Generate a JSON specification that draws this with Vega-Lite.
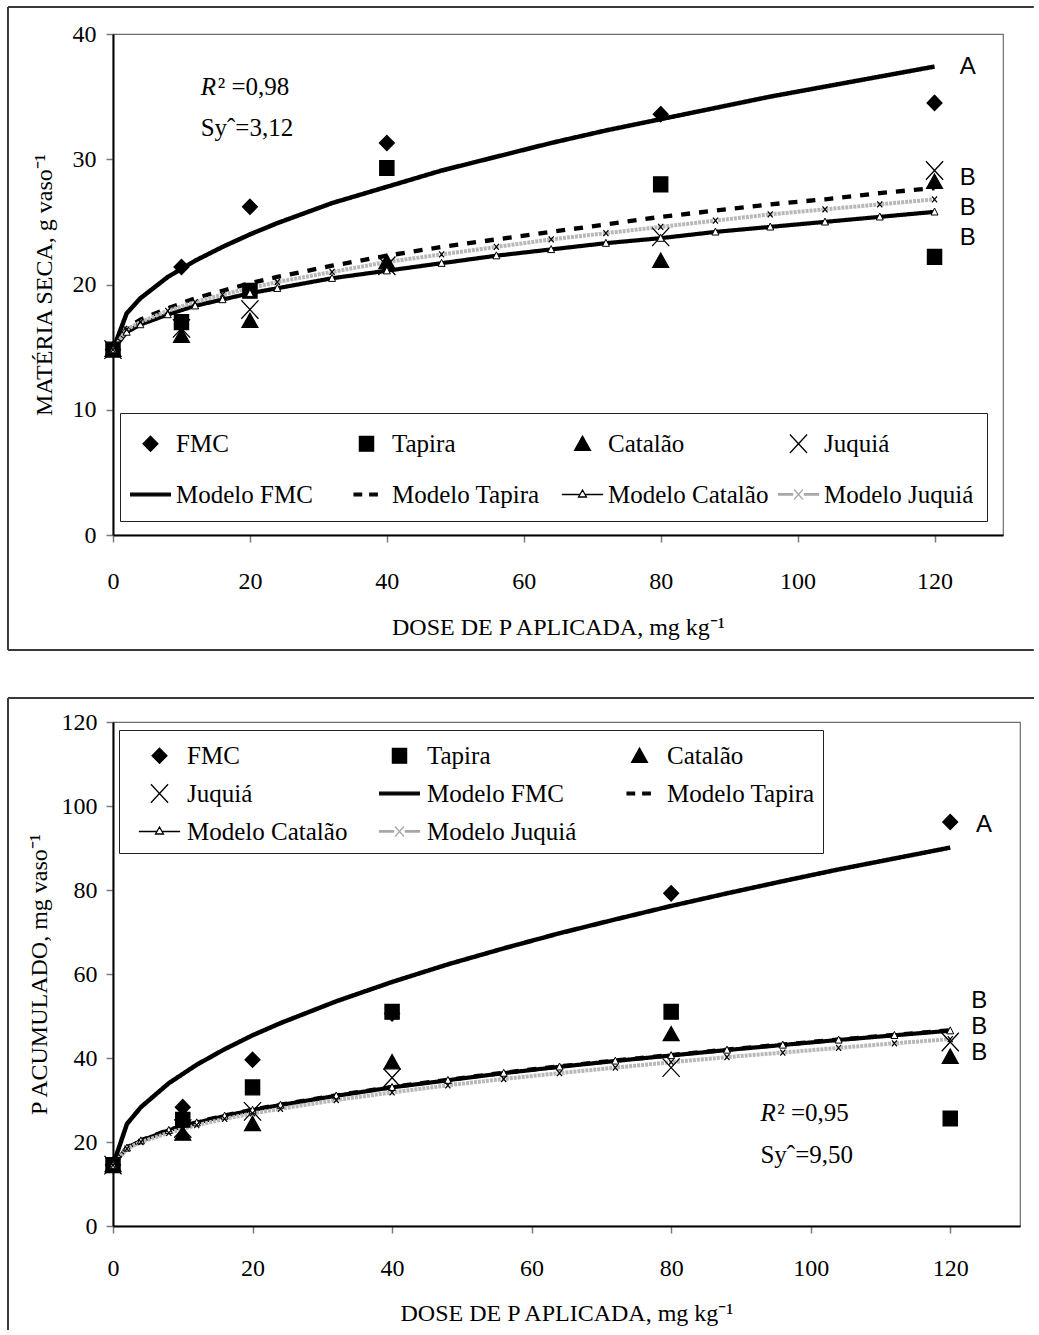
{
  "$schema": "https://vega.github.io/schema/vega-lite/v6.json",
  "padding": {"left": 6, "top": 5, "right": 0, "bottom": 0},
  "background": "white",
  "spacing": 44,
  "resolve": {
    "scale": {"shape": "independent", "stroke": "independent", "color": "independent", "strokeWidth": "independent", "strokeDash": "independent"},
    "legend": {"shape": "independent", "stroke": "independent"}
  },
  "datasets": {
    "ptsTop": [
      {"dose": 0, "serie": "FMC", "v": 14.8}, {"dose": 10, "serie": "FMC", "v": 21.4}, {"dose": 20, "serie": "FMC", "v": 26.2}, {"dose": 40, "serie": "FMC", "v": 31.3}, {"dose": 80, "serie": "FMC", "v": 33.6}, {"dose": 120, "serie": "FMC", "v": 34.5},
      {"dose": 0, "serie": "Tapira", "v": 14.8}, {"dose": 10, "serie": "Tapira", "v": 17.0}, {"dose": 20, "serie": "Tapira", "v": 19.5}, {"dose": 40, "serie": "Tapira", "v": 29.3}, {"dose": 80, "serie": "Tapira", "v": 28.0}, {"dose": 120, "serie": "Tapira", "v": 22.2},
      {"dose": 0, "serie": "Catalão", "v": 14.8}, {"dose": 10, "serie": "Catalão", "v": 15.9}, {"dose": 20, "serie": "Catalão", "v": 17.1}, {"dose": 40, "serie": "Catalão", "v": 21.8}, {"dose": 80, "serie": "Catalão", "v": 21.9}, {"dose": 120, "serie": "Catalão", "v": 28.2},
      {"dose": 0, "serie": "Juquiá", "v": 14.8}, {"dose": 10, "serie": "Juquiá", "v": 16.5}, {"dose": 20, "serie": "Juquiá", "v": 18.0}, {"dose": 40, "serie": "Juquiá", "v": 21.5}, {"dose": 80, "serie": "Juquiá", "v": 23.8}, {"dose": 120, "serie": "Juquiá", "v": 29.1}
    ],
    "modTop": [
      {"dose": 0, "serie": "Modelo FMC", "v": 14.8}, {"dose": 2, "serie": "Modelo FMC", "v": 17.7}, {"dose": 4, "serie": "Modelo FMC", "v": 18.9}, {"dose": 8, "serie": "Modelo FMC", "v": 20.6}, {"dose": 12, "serie": "Modelo FMC", "v": 21.9}, {"dose": 16, "serie": "Modelo FMC", "v": 23.0}, {"dose": 20, "serie": "Modelo FMC", "v": 24.0}, {"dose": 24, "serie": "Modelo FMC", "v": 24.9}, {"dose": 32, "serie": "Modelo FMC", "v": 26.5}, {"dose": 40, "serie": "Modelo FMC", "v": 27.8}, {"dose": 48, "serie": "Modelo FMC", "v": 29.1}, {"dose": 56, "serie": "Modelo FMC", "v": 30.2}, {"dose": 64, "serie": "Modelo FMC", "v": 31.3}, {"dose": 72, "serie": "Modelo FMC", "v": 32.3}, {"dose": 80, "serie": "Modelo FMC", "v": 33.2}, {"dose": 88, "serie": "Modelo FMC", "v": 34.1}, {"dose": 96, "serie": "Modelo FMC", "v": 35.0}, {"dose": 104, "serie": "Modelo FMC", "v": 35.8}, {"dose": 112, "serie": "Modelo FMC", "v": 36.6}, {"dose": 120, "serie": "Modelo FMC", "v": 37.4},
      {"dose": 0, "serie": "Modelo Tapira", "v": 14.8}, {"dose": 2, "serie": "Modelo Tapira", "v": 16.5}, {"dose": 4, "serie": "Modelo Tapira", "v": 17.2}, {"dose": 8, "serie": "Modelo Tapira", "v": 18.1}, {"dose": 12, "serie": "Modelo Tapira", "v": 18.9}, {"dose": 16, "serie": "Modelo Tapira", "v": 19.5}, {"dose": 20, "serie": "Modelo Tapira", "v": 20.1}, {"dose": 24, "serie": "Modelo Tapira", "v": 20.6}, {"dose": 32, "serie": "Modelo Tapira", "v": 21.5}, {"dose": 40, "serie": "Modelo Tapira", "v": 22.3}, {"dose": 48, "serie": "Modelo Tapira", "v": 23.0}, {"dose": 56, "serie": "Modelo Tapira", "v": 23.6}, {"dose": 64, "serie": "Modelo Tapira", "v": 24.2}, {"dose": 72, "serie": "Modelo Tapira", "v": 24.8}, {"dose": 80, "serie": "Modelo Tapira", "v": 25.4}, {"dose": 88, "serie": "Modelo Tapira", "v": 25.9}, {"dose": 96, "serie": "Modelo Tapira", "v": 26.4}, {"dose": 104, "serie": "Modelo Tapira", "v": 26.8}, {"dose": 112, "serie": "Modelo Tapira", "v": 27.3}, {"dose": 120, "serie": "Modelo Tapira", "v": 27.7},
      {"dose": 0, "serie": "Modelo Catalão", "v": 14.8}, {"dose": 2, "serie": "Modelo Catalão", "v": 16.2}, {"dose": 4, "serie": "Modelo Catalão", "v": 16.8}, {"dose": 8, "serie": "Modelo Catalão", "v": 17.6}, {"dose": 12, "serie": "Modelo Catalão", "v": 18.3}, {"dose": 16, "serie": "Modelo Catalão", "v": 18.8}, {"dose": 20, "serie": "Modelo Catalão", "v": 19.3}, {"dose": 24, "serie": "Modelo Catalão", "v": 19.7}, {"dose": 32, "serie": "Modelo Catalão", "v": 20.5}, {"dose": 40, "serie": "Modelo Catalão", "v": 21.1}, {"dose": 48, "serie": "Modelo Catalão", "v": 21.7}, {"dose": 56, "serie": "Modelo Catalão", "v": 22.3}, {"dose": 64, "serie": "Modelo Catalão", "v": 22.8}, {"dose": 72, "serie": "Modelo Catalão", "v": 23.3}, {"dose": 80, "serie": "Modelo Catalão", "v": 23.7}, {"dose": 88, "serie": "Modelo Catalão", "v": 24.2}, {"dose": 96, "serie": "Modelo Catalão", "v": 24.6}, {"dose": 104, "serie": "Modelo Catalão", "v": 25.0}, {"dose": 112, "serie": "Modelo Catalão", "v": 25.4}, {"dose": 120, "serie": "Modelo Catalão", "v": 25.8},
      {"dose": 0, "serie": "Modelo Juquiá", "v": 14.8}, {"dose": 2, "serie": "Modelo Juquiá", "v": 16.4}, {"dose": 4, "serie": "Modelo Juquiá", "v": 17.0}, {"dose": 8, "serie": "Modelo Juquiá", "v": 17.9}, {"dose": 12, "serie": "Modelo Juquiá", "v": 18.6}, {"dose": 16, "serie": "Modelo Juquiá", "v": 19.2}, {"dose": 20, "serie": "Modelo Juquiá", "v": 19.7}, {"dose": 24, "serie": "Modelo Juquiá", "v": 20.2}, {"dose": 32, "serie": "Modelo Juquiá", "v": 21.0}, {"dose": 40, "serie": "Modelo Juquiá", "v": 21.8}, {"dose": 48, "serie": "Modelo Juquiá", "v": 22.4}, {"dose": 56, "serie": "Modelo Juquiá", "v": 23.0}, {"dose": 64, "serie": "Modelo Juquiá", "v": 23.6}, {"dose": 72, "serie": "Modelo Juquiá", "v": 24.1}, {"dose": 80, "serie": "Modelo Juquiá", "v": 24.6}, {"dose": 88, "serie": "Modelo Juquiá", "v": 25.1}, {"dose": 96, "serie": "Modelo Juquiá", "v": 25.6}, {"dose": 104, "serie": "Modelo Juquiá", "v": 26.0}, {"dose": 112, "serie": "Modelo Juquiá", "v": 26.4}, {"dose": 120, "serie": "Modelo Juquiá", "v": 26.8}
    ],
    "ptsBot": [
      {"dose": 0, "serie": "FMC", "v": 14.5}, {"dose": 10, "serie": "FMC", "v": 28.3}, {"dose": 20, "serie": "FMC", "v": 39.6}, {"dose": 40, "serie": "FMC", "v": 50.6}, {"dose": 80, "serie": "FMC", "v": 79.2}, {"dose": 120, "serie": "FMC", "v": 96.2},
      {"dose": 0, "serie": "Tapira", "v": 14.5}, {"dose": 10, "serie": "Tapira", "v": 25.3}, {"dose": 20, "serie": "Tapira", "v": 33.0}, {"dose": 40, "serie": "Tapira", "v": 51.0}, {"dose": 80, "serie": "Tapira", "v": 51.0}, {"dose": 120, "serie": "Tapira", "v": 25.6},
      {"dose": 0, "serie": "Catalão", "v": 14.5}, {"dose": 10, "serie": "Catalão", "v": 22.0}, {"dose": 20, "serie": "Catalão", "v": 24.3}, {"dose": 40, "serie": "Catalão", "v": 39.0}, {"dose": 80, "serie": "Catalão", "v": 45.7}, {"dose": 120, "serie": "Catalão", "v": 40.3},
      {"dose": 0, "serie": "Juquiá", "v": 14.5}, {"dose": 10, "serie": "Juquiá", "v": 23.2}, {"dose": 20, "serie": "Juquiá", "v": 27.3}, {"dose": 40, "serie": "Juquiá", "v": 35.3}, {"dose": 80, "serie": "Juquiá", "v": 37.7}, {"dose": 120, "serie": "Juquiá", "v": 43.8}
    ],
    "modBot": [
      {"dose": 0, "serie": "Modelo FMC", "v": 14.5}, {"dose": 2, "serie": "Modelo FMC", "v": 24.3}, {"dose": 4, "serie": "Modelo FMC", "v": 28.3}, {"dose": 8, "serie": "Modelo FMC", "v": 34.0}, {"dose": 12, "serie": "Modelo FMC", "v": 38.4}, {"dose": 16, "serie": "Modelo FMC", "v": 42.1}, {"dose": 20, "serie": "Modelo FMC", "v": 45.4}, {"dose": 24, "serie": "Modelo FMC", "v": 48.3}, {"dose": 32, "serie": "Modelo FMC", "v": 53.5}, {"dose": 40, "serie": "Modelo FMC", "v": 58.1}, {"dose": 48, "serie": "Modelo FMC", "v": 62.3}, {"dose": 56, "serie": "Modelo FMC", "v": 66.1}, {"dose": 64, "serie": "Modelo FMC", "v": 69.7}, {"dose": 72, "serie": "Modelo FMC", "v": 73.0}, {"dose": 80, "serie": "Modelo FMC", "v": 76.2}, {"dose": 88, "serie": "Modelo FMC", "v": 79.2}, {"dose": 96, "serie": "Modelo FMC", "v": 82.1}, {"dose": 104, "serie": "Modelo FMC", "v": 84.9}, {"dose": 112, "serie": "Modelo FMC", "v": 87.5}, {"dose": 120, "serie": "Modelo FMC", "v": 90.1},
      {"dose": 0, "serie": "Modelo Tapira", "v": 14.5}, {"dose": 2, "serie": "Modelo Tapira", "v": 18.7}, {"dose": 4, "serie": "Modelo Tapira", "v": 20.4}, {"dose": 8, "serie": "Modelo Tapira", "v": 22.9}, {"dose": 12, "serie": "Modelo Tapira", "v": 24.7}, {"dose": 16, "serie": "Modelo Tapira", "v": 26.3}, {"dose": 20, "serie": "Modelo Tapira", "v": 27.7}, {"dose": 24, "serie": "Modelo Tapira", "v": 28.9}, {"dose": 32, "serie": "Modelo Tapira", "v": 31.1}, {"dose": 40, "serie": "Modelo Tapira", "v": 33.1}, {"dose": 48, "serie": "Modelo Tapira", "v": 34.8}, {"dose": 56, "serie": "Modelo Tapira", "v": 36.5}, {"dose": 64, "serie": "Modelo Tapira", "v": 38.0}, {"dose": 72, "serie": "Modelo Tapira", "v": 39.4}, {"dose": 80, "serie": "Modelo Tapira", "v": 40.7}, {"dose": 88, "serie": "Modelo Tapira", "v": 42.0}, {"dose": 96, "serie": "Modelo Tapira", "v": 43.2}, {"dose": 104, "serie": "Modelo Tapira", "v": 44.4}, {"dose": 112, "serie": "Modelo Tapira", "v": 45.5}, {"dose": 120, "serie": "Modelo Tapira", "v": 46.6},
      {"dose": 0, "serie": "Modelo Catalão", "v": 14.5}, {"dose": 2, "serie": "Modelo Catalão", "v": 18.6}, {"dose": 4, "serie": "Modelo Catalão", "v": 20.3}, {"dose": 8, "serie": "Modelo Catalão", "v": 22.8}, {"dose": 12, "serie": "Modelo Catalão", "v": 24.6}, {"dose": 16, "serie": "Modelo Catalão", "v": 26.2}, {"dose": 20, "serie": "Modelo Catalão", "v": 27.6}, {"dose": 24, "serie": "Modelo Catalão", "v": 28.8}, {"dose": 32, "serie": "Modelo Catalão", "v": 31.0}, {"dose": 40, "serie": "Modelo Catalão", "v": 33.0}, {"dose": 48, "serie": "Modelo Catalão", "v": 34.7}, {"dose": 56, "serie": "Modelo Catalão", "v": 36.4}, {"dose": 64, "serie": "Modelo Catalão", "v": 37.9}, {"dose": 72, "serie": "Modelo Catalão", "v": 39.3}, {"dose": 80, "serie": "Modelo Catalão", "v": 40.6}, {"dose": 88, "serie": "Modelo Catalão", "v": 41.9}, {"dose": 96, "serie": "Modelo Catalão", "v": 43.1}, {"dose": 104, "serie": "Modelo Catalão", "v": 44.3}, {"dose": 112, "serie": "Modelo Catalão", "v": 45.4}, {"dose": 120, "serie": "Modelo Catalão", "v": 46.5},
      {"dose": 0, "serie": "Modelo Juquiá", "v": 14.5}, {"dose": 2, "serie": "Modelo Juquiá", "v": 18.4}, {"dose": 4, "serie": "Modelo Juquiá", "v": 20.0}, {"dose": 8, "serie": "Modelo Juquiá", "v": 22.2}, {"dose": 12, "serie": "Modelo Juquiá", "v": 24.0}, {"dose": 16, "serie": "Modelo Juquiá", "v": 25.5}, {"dose": 20, "serie": "Modelo Juquiá", "v": 26.8}, {"dose": 24, "serie": "Modelo Juquiá", "v": 27.9}, {"dose": 32, "serie": "Modelo Juquiá", "v": 30.0}, {"dose": 40, "serie": "Modelo Juquiá", "v": 31.8}, {"dose": 48, "serie": "Modelo Juquiá", "v": 33.5}, {"dose": 56, "serie": "Modelo Juquiá", "v": 35.0}, {"dose": 64, "serie": "Modelo Juquiá", "v": 36.4}, {"dose": 72, "serie": "Modelo Juquiá", "v": 37.7}, {"dose": 80, "serie": "Modelo Juquiá", "v": 39.0}, {"dose": 88, "serie": "Modelo Juquiá", "v": 40.2}, {"dose": 96, "serie": "Modelo Juquiá", "v": 41.3}, {"dose": 104, "serie": "Modelo Juquiá", "v": 42.4}, {"dose": 112, "serie": "Modelo Juquiá", "v": 43.5}, {"dose": 120, "serie": "Modelo Juquiá", "v": 44.5}
    ]
  },
  "config": {
    "view": {"stroke": "#6e6e6e", "strokeWidth": 1.2},
    "font": "Liberation Serif",
    "axis": {
      "labelFont": "Liberation Serif", "labelFontSize": 24, "labelColor": "black", "labelFlush": false,
      "titleFont": "Liberation Serif", "titleFontSize": 24, "titleFontWeight": "normal", "titleColor": "black",
      "domainColor": "black", "domainWidth": 2, "tickColor": "#7a7a7a", "tickWidth": 1.5, "tickSize": 7,
      "grid": false, "labelOverlap": false
    },
    "legend": {
      "labelFont": "Liberation Serif", "labelFontSize": 25, "labelColor": "black", "labelLimit": 600,
      "strokeColor": "#222", "fillColor": "white", "symbolStrokeWidth": 1.3, "symbolSize": 1089,
      "gridAlign": "all", "title": null, "direction": "horizontal"
    }
  },
  "vconcat": [
    {
      "width": 890,
      "height": 501,
      "layer": [
        {
          "data": {"values": [{}]},
          "mark": {"type": "rule", "clip": false, "color": "#3a3a3a", "strokeWidth": 2},
          "encoding": {
            "x": {"datum": -15.34, "type": "quantitative", "title": "DOSE DE P APLICADA, mg kg⁻¹", "scale": {"domain": [0, 130], "nice": false, "zero": false}},
            "x2": {"datum": 134.5},
            "y": {"datum": 42.16, "type": "quantitative", "title": "MATÉRIA SECA, g vaso⁻¹", "scale": {"domain": [0, 40], "nice": false, "zero": false}}
          }
        },
        {
          "data": {"values": [{}]},
          "mark": {"type": "rule", "clip": false, "color": "#3a3a3a", "strokeWidth": 2},
          "encoding": {
            "x": {"datum": -15.34, "type": "quantitative", "title": "DOSE DE P APLICADA, mg kg⁻¹", "scale": {"domain": [0, 130], "nice": false, "zero": false}},
            "x2": {"datum": 134.5},
            "y": {"datum": -9.18, "type": "quantitative", "title": "MATÉRIA SECA, g vaso⁻¹", "scale": {"domain": [0, 40], "nice": false, "zero": false}}
          }
        },
        {
          "data": {"values": [{}]},
          "mark": {"type": "rule", "clip": false, "color": "#3a3a3a", "strokeWidth": 2},
          "encoding": {
            "x": {"datum": -15.34, "type": "quantitative", "title": "DOSE DE P APLICADA, mg kg⁻¹", "scale": {"domain": [0, 130], "nice": false, "zero": false}},
            "y": {"datum": 42.16, "type": "quantitative", "title": "MATÉRIA SECA, g vaso⁻¹", "scale": {"domain": [0, 40], "nice": false, "zero": false}},
            "y2": {"datum": -9.18}
          }
        },
        {
          "data": {"name": "modTop"},
          "mark": {"type": "line", "clip": false},
          "encoding": {
            "x": {"field": "dose", "type": "quantitative", "title": "DOSE DE P APLICADA, mg kg⁻¹", "scale": {"domain": [0, 130], "nice": false, "zero": false}},
            "y": {"field": "v", "type": "quantitative", "title": "MATÉRIA SECA, g vaso⁻¹", "scale": {"domain": [0, 40], "nice": false, "zero": false}},
            "color": {"field": "serie", "type": "nominal", "scale": {"domain": ["Modelo FMC", "Modelo Tapira", "Modelo Catalão", "Modelo Juquiá"], "range": ["black", "black", "black", "#b8b8b8"]}, "legend": null},
            "strokeWidth": {"field": "serie", "type": "nominal", "scale": {"domain": ["Modelo FMC", "Modelo Tapira", "Modelo Catalão", "Modelo Juquiá"], "range": [4.5, 4, 1.3, 3.5]}, "legend": null},
            "strokeDash": {"field": "serie", "type": "nominal", "scale": {"domain": ["Modelo FMC", "Modelo Tapira", "Modelo Catalão", "Modelo Juquiá"], "range": [[1, 0], [9, 9], [1, 0], [3, 1]]}, "legend": null}
          }
        },
        {
          "data": {"name": "ptsTop"},
          "mark": {"type": "point", "filled": true, "color": "black", "strokeWidth": 1.3, "size": 1089, "opacity": 1},
          "encoding": {
            "x": {"field": "dose", "type": "quantitative", "title": "DOSE DE P APLICADA, mg kg⁻¹", "scale": {"domain": [0, 130], "nice": false, "zero": false},
                  "axis": {"values": [0, 20, 40, 60, 80, 100, 120], "labelPadding": 27, "titlePadding": 22}},
            "y": {"field": "v", "type": "quantitative", "title": "MATÉRIA SECA, g vaso⁻¹", "scale": {"domain": [0, 40], "nice": false, "zero": false},
                  "axis": {"values": [0, 10, 20, 30, 40], "labelPadding": 10, "titlePadding": 16}},
            "stroke": {
              "field": "serie", "type": "nominal",
              "scale": {
                "domain": ["FMC", "Tapira", "Catalão", "Juquiá", "Modelo FMC", "Modelo Tapira", "Modelo Catalão", "Modelo Juquiá"],
                "range": ["black", "black", "black", "black", "black", "black", "black", "#a8a8a8"]
              }
            },
            "shape": {
              "field": "serie", "type": "nominal",
              "scale": {
                "domain": ["FMC", "Tapira", "Catalão", "Juquiá", "Modelo FMC", "Modelo Tapira", "Modelo Catalão", "Modelo Juquiá"],
                "range": [
                  "M0,-0.46L0.45,0L0,0.46L-0.45,0Z",
                  "M-0.43,-0.45L0.43,-0.45L0.43,0.45L-0.43,0.45Z",
                  "M0,-0.46L0.48,0.4L-0.48,0.4Z",
                  "M-0.52,-0.56L0.52,0.56M0.52,-0.56L-0.52,0.56",
                  "M-1.2,-0.08L1.2,-0.08L1.2,0.08L-1.2,0.08Z",
                  "M-0.75,-0.08L-0.3,-0.08L-0.3,0.08L-0.75,0.08ZM0.2,-0.08L0.65,-0.08L0.65,0.08L0.2,0.08Z",
                  "M-1.25,0L-0.15,0M0.15,0L1.25,0M0,-0.27L0.24,0.15L-0.24,0.15ZM0,-0.27L-0.24,0.15L0.24,0.15Z",
                  "M-1.25,-0.05L-0.32,-0.05M-1.25,0.03L-0.32,0.03M0.32,-0.05L1.25,-0.05M0.32,0.03L1.25,0.03M-0.27,-0.3L0.27,0.3M0.27,-0.3L-0.27,0.3"
                ]
              },
              "legend": {
                "orient": "none", "legendX": 7, "legendY": 379, "columns": 4, "direction": "horizontal",
                "padding": 13, "rowPadding": 20, "columnPadding": 6, "symbolOffset": 0, "labelOffset": 8
              }
            }
          }
        },
        {
          "data": {"name": "modTop"},
          "transform": [{"filter": "datum.serie === 'Modelo Catalão'"}],
          "mark": {"type": "point", "filled": true, "fill": "white", "stroke": "black", "strokeWidth": 1, "size": 49, "opacity": 1, "shape": "M0,-1.1L1,0.9L-1,0.9Z"},
          "encoding": {
            "x": {"field": "dose", "type": "quantitative", "title": "DOSE DE P APLICADA, mg kg⁻¹", "scale": {"domain": [0, 130], "nice": false, "zero": false}},
            "y": {"field": "v", "type": "quantitative", "title": "MATÉRIA SECA, g vaso⁻¹", "scale": {"domain": [0, 40], "nice": false, "zero": false}}
          }
        },
        {
          "data": {"name": "modTop"},
          "transform": [{"filter": "datum.serie === 'Modelo Juquiá'"}],
          "mark": {"type": "point", "filled": false, "color": "black", "strokeWidth": 1.2, "size": 25, "opacity": 1, "shape": "M-1,-1.2L1,1.2M1,-1.2L-1,1.2"},
          "encoding": {
            "x": {"field": "dose", "type": "quantitative", "title": "DOSE DE P APLICADA, mg kg⁻¹", "scale": {"domain": [0, 130], "nice": false, "zero": false}},
            "y": {"field": "v", "type": "quantitative", "title": "MATÉRIA SECA, g vaso⁻¹", "scale": {"domain": [0, 40], "nice": false, "zero": false}}
          }
        },
        {
          "data": {"values": [{"dose": 123.7, "v": 37.4, "t": "A"}, {"dose": 123.7, "v": 28.5, "t": "B"}, {"dose": 123.7, "v": 26.1, "t": "B"}, {"dose": 123.7, "v": 23.7, "t": "B"}]},
          "mark": {"type": "text", "font": "Liberation Sans", "fontSize": 24, "align": "left", "baseline": "middle", "color": "black", "clip": false},
          "encoding": {
            "x": {"field": "dose", "type": "quantitative", "title": "DOSE DE P APLICADA, mg kg⁻¹", "scale": {"domain": [0, 130], "nice": false, "zero": false}},
            "y": {"field": "v", "type": "quantitative", "title": "MATÉRIA SECA, g vaso⁻¹", "scale": {"domain": [0, 40], "nice": false, "zero": false}},
            "text": {"field": "t"}
          }
        },
        {
          "data": {"values": [{"dose": 12.8, "v": 35.8, "t": "R"}]},
          "mark": {"type": "text", "font": "Liberation Serif", "fontStyle": "italic", "fontSize": 25, "align": "left", "baseline": "middle", "color": "black"},
          "encoding": {
            "x": {"field": "dose", "type": "quantitative", "title": "DOSE DE P APLICADA, mg kg⁻¹", "scale": {"domain": [0, 130], "nice": false, "zero": false}},
            "y": {"field": "v", "type": "quantitative", "title": "MATÉRIA SECA, g vaso⁻¹", "scale": {"domain": [0, 40], "nice": false, "zero": false}},
            "text": {"field": "t"}
          }
        },
        {
          "data": {"values": [{"dose": 15.3, "v": 35.8, "t": "²  =0,98"}, {"dose": 12.8, "v": 32.5, "t": "Syˆ=3,12"}]},
          "mark": {"type": "text", "font": "Liberation Serif", "fontSize": 25, "align": "left", "baseline": "middle", "color": "black"},
          "encoding": {
            "x": {"field": "dose", "type": "quantitative", "title": "DOSE DE P APLICADA, mg kg⁻¹", "scale": {"domain": [0, 130], "nice": false, "zero": false}},
            "y": {"field": "v", "type": "quantitative", "title": "MATÉRIA SECA, g vaso⁻¹", "scale": {"domain": [0, 40], "nice": false, "zero": false}},
            "text": {"field": "t"}
          }
        }
      ]
    },
    {
      "width": 907,
      "height": 504,
      "layer": [
        {
          "data": {"values": [{}]},
          "mark": {"type": "rule", "clip": false, "color": "#3a3a3a", "strokeWidth": 2},
          "encoding": {
            "x": {"datum": -15.05, "type": "quantitative", "title": "DOSE DE P APLICADA, mg kg⁻¹", "scale": {"domain": [0, 130], "nice": false, "zero": false}},
            "x2": {"datum": 132.0},
            "y": {"datum": 125.7, "type": "quantitative", "title": "P ACUMULADO, mg vaso⁻¹", "scale": {"domain": [0, 120], "nice": false, "zero": false}}
          }
        },
        {
          "data": {"values": [{}]},
          "mark": {"type": "rule", "clip": false, "color": "#3a3a3a", "strokeWidth": 2},
          "encoding": {
            "x": {"datum": -15.05, "type": "quantitative", "title": "DOSE DE P APLICADA, mg kg⁻¹", "scale": {"domain": [0, 130], "nice": false, "zero": false}},
            "y": {"datum": 125.7, "type": "quantitative", "title": "P ACUMULADO, mg vaso⁻¹", "scale": {"domain": [0, 120], "nice": false, "zero": false}},
            "y2": {"datum": -24.76}
          }
        },
        {
          "data": {"name": "modBot"},
          "mark": {"type": "line", "clip": false},
          "encoding": {
            "x": {"field": "dose", "type": "quantitative", "title": "DOSE DE P APLICADA, mg kg⁻¹", "scale": {"domain": [0, 130], "nice": false, "zero": false}},
            "y": {"field": "v", "type": "quantitative", "title": "P ACUMULADO, mg vaso⁻¹", "scale": {"domain": [0, 120], "nice": false, "zero": false}},
            "color": {"field": "serie", "type": "nominal", "scale": {"domain": ["Modelo FMC", "Modelo Tapira", "Modelo Catalão", "Modelo Juquiá"], "range": ["black", "black", "black", "#b8b8b8"]}, "legend": null},
            "strokeWidth": {"field": "serie", "type": "nominal", "scale": {"domain": ["Modelo FMC", "Modelo Tapira", "Modelo Catalão", "Modelo Juquiá"], "range": [4.5, 4, 1.3, 3.5]}, "legend": null},
            "strokeDash": {"field": "serie", "type": "nominal", "scale": {"domain": ["Modelo FMC", "Modelo Tapira", "Modelo Catalão", "Modelo Juquiá"], "range": [[1, 0], [9, 9], [1, 0], [3, 1]]}, "legend": null}
          }
        },
        {
          "data": {"name": "ptsBot"},
          "mark": {"type": "point", "filled": true, "color": "black", "strokeWidth": 1.3, "size": 1089, "opacity": 1},
          "encoding": {
            "x": {"field": "dose", "type": "quantitative", "title": "DOSE DE P APLICADA, mg kg⁻¹", "scale": {"domain": [0, 130], "nice": false, "zero": false},
                  "axis": {"values": [0, 20, 40, 60, 80, 100, 120], "labelPadding": 23, "titlePadding": 21}},
            "y": {"field": "v", "type": "quantitative", "title": "P ACUMULADO, mg vaso⁻¹", "scale": {"domain": [0, 120], "nice": false, "zero": false},
                  "axis": {"values": [0, 20, 40, 60, 80, 100, 120], "labelPadding": 9, "titlePadding": 10}},
            "stroke": {
              "field": "serie", "type": "nominal",
              "scale": {
                "domain": ["FMC", "Tapira", "Catalão", "Juquiá", "Modelo FMC", "Modelo Tapira", "Modelo Catalão", "Modelo Juquiá"],
                "range": ["black", "black", "black", "black", "black", "black", "black", "#a8a8a8"]
              }
            },
            "shape": {
              "field": "serie", "type": "nominal",
              "scale": {
                "domain": ["FMC", "Tapira", "Catalão", "Juquiá", "Modelo FMC", "Modelo Tapira", "Modelo Catalão", "Modelo Juquiá"],
                "range": [
                  "M0,-0.46L0.45,0L0,0.46L-0.45,0Z",
                  "M-0.43,-0.45L0.43,-0.45L0.43,0.45L-0.43,0.45Z",
                  "M0,-0.46L0.48,0.4L-0.48,0.4Z",
                  "M-0.52,-0.56L0.52,0.56M0.52,-0.56L-0.52,0.56",
                  "M-1.2,-0.08L1.2,-0.08L1.2,0.08L-1.2,0.08Z",
                  "M-0.75,-0.08L-0.3,-0.08L-0.3,0.08L-0.75,0.08ZM0.2,-0.08L0.65,-0.08L0.65,0.08L0.2,0.08Z",
                  "M-1.25,0L-0.15,0M0.15,0L1.25,0M0,-0.27L0.24,0.15L-0.24,0.15ZM0,-0.27L-0.24,0.15L0.24,0.15Z",
                  "M-1.25,-0.05L-0.32,-0.05M-1.25,0.03L-0.32,0.03M0.32,-0.05L1.25,-0.05M0.32,0.03L1.25,0.03M-0.27,-0.3L0.27,0.3M0.27,-0.3L-0.27,0.3"
                ]
              },
              "legend": {
                "orient": "none", "legendX": 6, "legendY": 8, "columns": 3, "direction": "horizontal",
                "padding": 8, "rowPadding": 7, "columnPadding": 19, "symbolOffset": 15, "labelOffset": 10
              }
            }
          }
        },
        {
          "data": {"name": "modBot"},
          "transform": [{"filter": "datum.serie === 'Modelo Catalão'"}],
          "mark": {"type": "point", "filled": true, "fill": "white", "stroke": "black", "strokeWidth": 1, "size": 49, "opacity": 1, "shape": "M0,-1.1L1,0.9L-1,0.9Z"},
          "encoding": {
            "x": {"field": "dose", "type": "quantitative", "title": "DOSE DE P APLICADA, mg kg⁻¹", "scale": {"domain": [0, 130], "nice": false, "zero": false}},
            "y": {"field": "v", "type": "quantitative", "title": "P ACUMULADO, mg vaso⁻¹", "scale": {"domain": [0, 120], "nice": false, "zero": false}}
          }
        },
        {
          "data": {"name": "modBot"},
          "transform": [{"filter": "datum.serie === 'Modelo Juquiá'"}],
          "mark": {"type": "point", "filled": false, "color": "black", "strokeWidth": 1.2, "size": 25, "opacity": 1, "shape": "M-1,-1.2L1,1.2M1,-1.2L-1,1.2"},
          "encoding": {
            "x": {"field": "dose", "type": "quantitative", "title": "DOSE DE P APLICADA, mg kg⁻¹", "scale": {"domain": [0, 130], "nice": false, "zero": false}},
            "y": {"field": "v", "type": "quantitative", "title": "P ACUMULADO, mg vaso⁻¹", "scale": {"domain": [0, 120], "nice": false, "zero": false}}
          }
        },
        {
          "data": {"values": [{"dose": 123.7, "v": 95.5, "t": "A"}, {"dose": 123.0, "v": 53.6, "t": "B"}, {"dose": 123.0, "v": 47.4, "t": "B"}, {"dose": 123.0, "v": 41.2, "t": "B"}]},
          "mark": {"type": "text", "font": "Liberation Sans", "fontSize": 24, "align": "left", "baseline": "middle", "color": "black", "clip": false},
          "encoding": {
            "x": {"field": "dose", "type": "quantitative", "title": "DOSE DE P APLICADA, mg kg⁻¹", "scale": {"domain": [0, 130], "nice": false, "zero": false}},
            "y": {"field": "v", "type": "quantitative", "title": "P ACUMULADO, mg vaso⁻¹", "scale": {"domain": [0, 120], "nice": false, "zero": false}},
            "text": {"field": "t"}
          }
        },
        {
          "data": {"values": [{"dose": 92.8, "v": 26.9, "t": "R"}]},
          "mark": {"type": "text", "font": "Liberation Serif", "fontStyle": "italic", "fontSize": 25, "align": "left", "baseline": "middle", "color": "black"},
          "encoding": {
            "x": {"field": "dose", "type": "quantitative", "title": "DOSE DE P APLICADA, mg kg⁻¹", "scale": {"domain": [0, 130], "nice": false, "zero": false}},
            "y": {"field": "v", "type": "quantitative", "title": "P ACUMULADO, mg vaso⁻¹", "scale": {"domain": [0, 120], "nice": false, "zero": false}},
            "text": {"field": "t"}
          }
        },
        {
          "data": {"values": [{"dose": 95.2, "v": 26.9, "t": "²  =0,95"}, {"dose": 92.8, "v": 16.9, "t": "Syˆ=9,50"}]},
          "mark": {"type": "text", "font": "Liberation Serif", "fontSize": 25, "align": "left", "baseline": "middle", "color": "black"},
          "encoding": {
            "x": {"field": "dose", "type": "quantitative", "title": "DOSE DE P APLICADA, mg kg⁻¹", "scale": {"domain": [0, 130], "nice": false, "zero": false}},
            "y": {"field": "v", "type": "quantitative", "title": "P ACUMULADO, mg vaso⁻¹", "scale": {"domain": [0, 120], "nice": false, "zero": false}},
            "text": {"field": "t"}
          }
        }
      ]
    }
  ]
}
